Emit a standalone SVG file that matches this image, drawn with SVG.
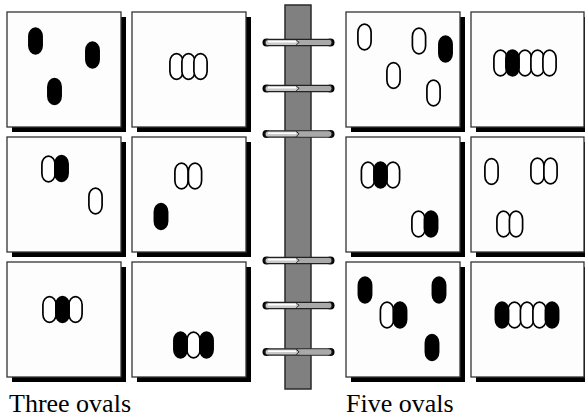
<svg xmlns="http://www.w3.org/2000/svg" xmlns:xlink="http://www.w3.org/1999/xlink" width="585" height="420" viewBox="0 0 585 420">
<style>
.sh{fill:#000}
.pn{fill:#fdfdfd;stroke:#333;stroke-width:1.3}
.o{fill:#fff;stroke:#000;stroke-width:1.7}
.f{fill:#000;stroke:#000;stroke-width:1.7}
.lbl{font-family:"Liberation Serif","Times New Roman",serif;font-size:26px;fill:#000}
</style>
<defs>
<rect id="ov" x="-6.6" y="-12.8" width="13.2" height="25.6" rx="6.6" ry="8"/>
<g id="ring">
<circle cx="266.5" cy="0" r="4" fill="#000"/>
<circle cx="330.5" cy="0" r="4" fill="#000"/>
<rect x="265" y="-3.2" width="67" height="6.4" rx="3.2" fill="#c9c9c9" stroke="#222" stroke-width="1.2"/>
<rect x="298" y="-2.4" width="33" height="4.8" rx="2" fill="#a9a9a9"/>
<line x1="268" y1="-0.8" x2="296" y2="-0.8" stroke="#fff" stroke-width="1.6"/>
<path d="M296,-2.8 L299,-0.2 L296,2.8" fill="none" stroke="#222" stroke-width="1"/>
</g>
</defs>
<rect width="585" height="420" fill="#fff"/>

<g id="spine">
<rect x="285" y="5" width="26" height="384" fill="#808080" stroke="#2a2a2a" stroke-width="1.5"/>
</g>
<g id="rings">
<use xlink:href="#ring" href="#ring" y="42.5"/>
<use xlink:href="#ring" href="#ring" y="88.5"/>
<use xlink:href="#ring" href="#ring" y="134"/>
<use xlink:href="#ring" href="#ring" y="260.5"/>
<use xlink:href="#ring" href="#ring" y="305.5"/>
<use xlink:href="#ring" href="#ring" y="352"/>
</g>

<!-- Left page: three ovals -->
<g id="p3-1">
<rect class="sh" x="12" y="17" width="114" height="115"/>
<rect class="pn" x="7" y="12" width="114" height="115"/>
<use href="#ov" class="f" x="35.5" y="41"/>
<use href="#ov" class="f" x="92.5" y="55"/>
<use href="#ov" class="f" x="54.5" y="91.5"/>
</g>
<g id="p3-2">
<rect class="sh" x="137" y="17" width="114" height="115"/>
<rect class="pn" x="132" y="12" width="114" height="115"/>
<use href="#ov" class="o" x="176.5" y="66.5"/>
<use href="#ov" class="o" x="188.5" y="66.5"/>
<use href="#ov" class="o" x="200.5" y="66.5"/>
</g>
<g id="p3-3">
<rect class="sh" x="12" y="142" width="114" height="115"/>
<rect class="pn" x="7" y="137" width="114" height="115"/>
<use href="#ov" class="o" x="48.5" y="169"/>
<use href="#ov" class="f" x="61.5" y="168.5"/>
<use href="#ov" class="o" x="95.5" y="201"/>
</g>
<g id="p3-4">
<rect class="sh" x="137" y="142" width="114" height="115"/>
<rect class="pn" x="132" y="137" width="114" height="115"/>
<use href="#ov" class="o" x="181.5" y="176"/>
<use href="#ov" class="o" x="195" y="176"/>
<use href="#ov" class="f" x="161" y="216.5"/>
</g>
<g id="p3-5">
<rect class="sh" x="12" y="267" width="114" height="115"/>
<rect class="pn" x="7" y="262" width="114" height="115"/>
<use href="#ov" class="o" x="49.5" y="309.5"/>
<use href="#ov" class="o" x="75.5" y="309.5"/>
<use href="#ov" class="f" x="62.5" y="309.5"/>
</g>
<g id="p3-6">
<rect class="sh" x="137" y="267" width="114" height="115"/>
<rect class="pn" x="132" y="262" width="114" height="115"/>
<use href="#ov" class="o" x="193.5" y="345"/>
<use href="#ov" class="f" x="180.5" y="345"/>
<use href="#ov" class="f" x="206.5" y="345"/>
</g>

<!-- Right page: five ovals -->
<g id="p5-1">
<rect class="sh" x="351" y="17" width="114" height="115"/>
<rect class="pn" x="346" y="12" width="114" height="115"/>
<use href="#ov" class="o" x="364.5" y="37"/>
<use href="#ov" class="o" x="419" y="41"/>
<use href="#ov" class="f" x="445.5" y="49"/>
<use href="#ov" class="o" x="393.5" y="75.5"/>
<use href="#ov" class="o" x="433.5" y="93"/>
</g>
<g id="p5-2">
<rect class="sh" x="476" y="17" width="114" height="115"/>
<rect class="pn" x="471" y="12" width="113" height="115"/>
<use href="#ov" class="o" x="500.5" y="63"/>
<use href="#ov" class="o" x="525" y="63"/>
<use href="#ov" class="o" x="537.5" y="63"/>
<use href="#ov" class="o" x="549.5" y="63"/>
<use href="#ov" class="f" x="512.5" y="63"/>
</g>
<g id="p5-3">
<rect class="sh" x="351" y="142" width="114" height="115"/>
<rect class="pn" x="346" y="137" width="114" height="115"/>
<use href="#ov" class="o" x="368" y="175"/>
<use href="#ov" class="o" x="393" y="175"/>
<use href="#ov" class="f" x="380.5" y="175"/>
<use href="#ov" class="o" x="418.5" y="224"/>
<use href="#ov" class="f" x="431" y="224"/>
</g>
<g id="p5-4">
<rect class="sh" x="476" y="142" width="114" height="115"/>
<rect class="pn" x="471" y="137" width="113" height="115"/>
<use href="#ov" class="o" x="491.5" y="171.5"/>
<use href="#ov" class="o" x="537.5" y="171"/>
<use href="#ov" class="o" x="550.5" y="171"/>
<use href="#ov" class="o" x="503.5" y="224"/>
<use href="#ov" class="o" x="516" y="224"/>
</g>
<g id="p5-5">
<rect class="sh" x="351" y="267" width="114" height="115"/>
<rect class="pn" x="346" y="262" width="114" height="115"/>
<use href="#ov" class="f" x="365" y="290"/>
<use href="#ov" class="f" x="439" y="290"/>
<use href="#ov" class="o" x="387" y="315"/>
<use href="#ov" class="f" x="400" y="315"/>
<use href="#ov" class="f" x="432" y="347.5"/>
</g>
<g id="p5-6">
<rect class="sh" x="476" y="267" width="114" height="115"/>
<rect class="pn" x="471" y="262" width="113" height="115"/>
<use href="#ov" class="o" x="514.5" y="315"/>
<use href="#ov" class="o" x="527" y="315"/>
<use href="#ov" class="o" x="539.5" y="315"/>
<use href="#ov" class="f" x="502" y="315"/>
<use href="#ov" class="f" x="552" y="315"/>
</g>

<g id="labels">
<text class="lbl" x="9" y="412">Three ovals</text>
<text class="lbl" x="346" y="412">Five ovals</text>
</g>
</svg>
